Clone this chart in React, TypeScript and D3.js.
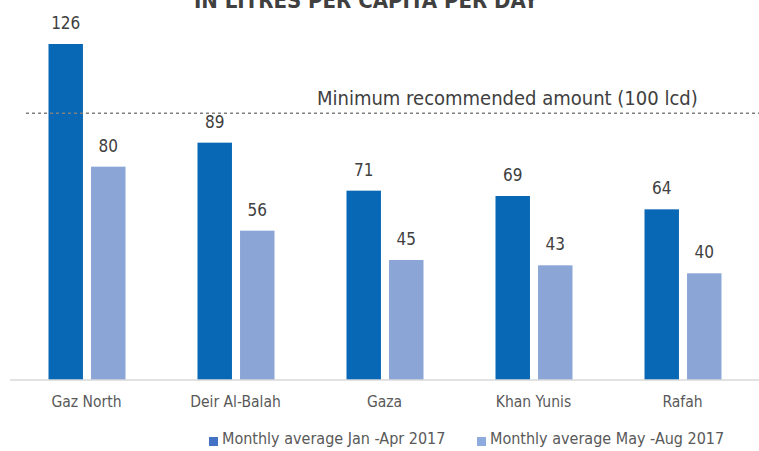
import React from "react";
import * as d3 from "d3";

const categories = ["Gaz North", "Deir Al-Balah", "Gaza", "Khan Yunis", "Rafah"];
const seriesNames = ["Monthly average Jan -Apr 2017", "Monthly average May -Aug 2017"];
const janApr = [126, 89, 71, 69, 64];
const mayAug = [80, 56, 45, 43, 40];
const threshold = 100;
const thresholdLabel = "Minimum recommended amount (100 lcd)";
const title = "IN LITRES PER CAPITA PER DAY";

const W = 759, H = 451;
const FONT = "'DejaVu Sans Condensed', 'Liberation Sans Narrow', sans-serif";
const colors = ["#0868b5", "#8aa5d6"];
const legendColors = ["#4472c4", "#8faadc"];

export default function App() {
  const x = d3.scaleBand<string>().domain(categories).range([12, 757]);
  const y = d3.scaleLinear().domain([0, 126]).range([380, 44]);
  const sub = d3.scaleBand<number>().domain([0, 1]).range([-38, 39]).paddingInner(0.19);
  const series = [janApr, mayAug];

  return (
    <svg width={W} height={H} style={{ position: "absolute", left: 0, top: 0, fontFamily: FONT }}>
      <text x={366} y={8} textAnchor="middle" fontSize={22} fontWeight="bold" fill="#404040">{title}</text>
      {series.map((vals, si) =>
        categories.map((c, i) => {
          const cx = (x(c) ?? 0) + x.bandwidth() / 2;
          const bx = cx + (sub(si) ?? 0);
          return (
            <g key={`${si}-${i}`}>
              <rect x={bx} y={y(vals[i])} width={sub.bandwidth()} height={y(0) - y(vals[i])} fill={colors[si]} />
              <text x={bx + sub.bandwidth() / 2} y={y(vals[i]) - 15} textAnchor="middle" fontSize={17} fill="#404040">{vals[i]}</text>
            </g>
          );
        })
      )}
      <line x1={10} x2={759} y1={y(0)} y2={y(0)} stroke="#d9d9d9" strokeWidth={1.5} />
      <line x1={26} x2={759} y1={y(threshold)} y2={y(threshold)} stroke="#808080" strokeWidth={1.5} strokeDasharray="3,3" />
      <text x={317} y={y(threshold) - 8} fontSize={20} fill="#404040">{thresholdLabel}</text>
      {categories.map((c) => (
        <text key={c} x={(x(c) ?? 0) + x.bandwidth() / 2} y={407} textAnchor="middle" fontSize={15.5} fill="#595959">{c}</text>
      ))}
      {seriesNames.map((n, i) => {
        const lx = i === 0 ? 209 : 477;
        return (
          <g key={n}>
            <rect x={lx} y={437} width={9} height={9} fill={legendColors[i]} />
            <text x={lx + 13} y={444} fontSize={16} fill="#595959">{n}</text>
          </g>
        );
      })}
    </svg>
  );
}
